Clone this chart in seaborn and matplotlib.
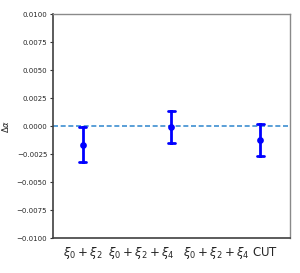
import matplotlib
matplotlib.use("Agg")
import matplotlib.pyplot as plt
import seaborn as sns
import pandas as pd
import numpy as np

categories = ["A", "B", "C"]
tick_labels = [r"$\xi_0+\xi_2$", r"$\xi_0+\xi_2+\xi_4$", r"$\xi_0+\xi_2+\xi_4$ CUT"]
values = [-0.00163, -0.00006, -0.00125]
errors = [0.00152, 0.00142, 0.00142]

rows = []
for c, v, e in zip(categories, values, errors):
    rows.append({"cat": c, "val": v - e})
    rows.append({"cat": c, "val": v + e})
df = pd.DataFrame(rows)

sns.set_style("white")
fig = plt.figure(figsize=(3, 2.73), dpi=100)
ax = fig.add_axes([0.176, 0.127, 0.791, 0.821])

sns.pointplot(data=df, x="cat", y="val", estimator="mean",
              errorbar=lambda x: (np.min(x), np.max(x)),
              linestyle="none", color="#0000ff", markers="o",
              markersize=2.8, capsize=0.08,
              err_kws={"linewidth": 2.0}, ax=ax)

ax.axhline(0, color="#3d8fd1", linestyle=(0, (3, 1.6)), linewidth=1.2, zorder=0)

ax.set_xlim(-0.337, 2.337)
ax.set_ylim(-0.01, 0.01)
ticks = np.arange(-0.01, 0.01001, 0.0025)
ax.set_yticks(ticks)
ax.set_yticklabels([f"{t:.4f}".replace("-", "\u2212") for t in ticks], fontsize=5)
ax.set_xticks([0, 0.66, 1.66])
ax.set_xticklabels(tick_labels, fontsize=8.5)
ax.tick_params(axis="x", length=0, pad=5)
ax.tick_params(axis="y", length=2.5, width=0.8, pad=1.5, left=True, color="#333333")
ax.set_xlabel("")
ax.set_ylabel(r"$\Delta\alpha$", fontsize=6, labelpad=4)

for side in ["left", "bottom"]:
    ax.spines[side].set_color("#404040")
    ax.spines[side].set_linewidth(1.2)
for side in ["top", "right"]:
    ax.spines[side].set_color("#8a8a8a")
    ax.spines[side].set_linewidth(1.0)

fig.savefig("out.png", dpi=100)
